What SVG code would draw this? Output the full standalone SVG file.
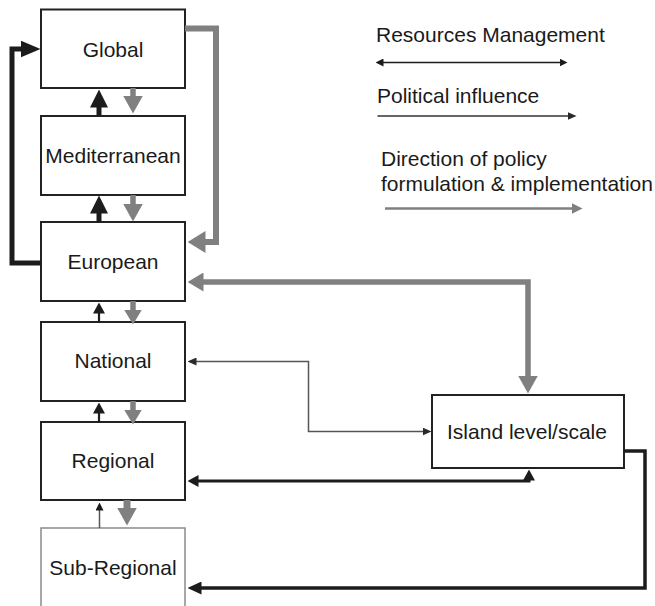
<svg xmlns="http://www.w3.org/2000/svg" width="655" height="606" viewBox="0 0 655 606">
<style>
.box{fill:#fff;stroke:#222;stroke-width:2}
.box.light{stroke:#8a8a8a;stroke-width:1.5}
text{font-family:"Liberation Sans",Arial,sans-serif;font-size:21px;fill:#1a1a1a}
.c{text-anchor:middle}
.k{fill:none;stroke:#1c1c1c}
.g{fill:none;stroke:#808080}
</style>
<defs>
<marker id="bBig" viewBox="0 -9 18 18" markerWidth="18" markerHeight="18" refX="0.5" refY="0" orient="auto-start-reverse" markerUnits="userSpaceOnUse"><path d="M0,-9 L18,0 L0,9 z" fill="#1c1c1c"/></marker>
<marker id="bLoop" viewBox="0 -8.5 20 17" markerWidth="20" markerHeight="17" refX="0.5" refY="0" orient="auto-start-reverse" markerUnits="userSpaceOnUse"><path d="M0,-8.5 L20,0 L0,8.5 z" fill="#1c1c1c"/></marker>
<marker id="bMid" viewBox="0 -6 11 12" markerWidth="11" markerHeight="12" refX="0.5" refY="0" orient="auto-start-reverse" markerUnits="userSpaceOnUse"><path d="M0,-6 L11,0 L0,6 z" fill="#1c1c1c"/></marker>
<marker id="bMid2" viewBox="0 -6.5 14 13" markerWidth="14" markerHeight="13" refX="0.5" refY="0" orient="auto-start-reverse" markerUnits="userSpaceOnUse"><path d="M0,-6.5 L14,0 L0,6.5 z" fill="#1c1c1c"/></marker>
<marker id="bSm" viewBox="0 -4 8 8" markerWidth="8" markerHeight="8" refX="0.5" refY="0" orient="auto-start-reverse" markerUnits="userSpaceOnUse"><path d="M0,-4 L8,0 L0,4 z" fill="#1c1c1c"/></marker>
<marker id="dSm" viewBox="0 -4 9 8" markerWidth="9" markerHeight="8" refX="0.5" refY="0" orient="auto-start-reverse" markerUnits="userSpaceOnUse"><path d="M0,-4 L9,0 L0,4 z" fill="#2a2a2a"/></marker>
<marker id="gBig" viewBox="0 -10 18 20" markerWidth="18" markerHeight="20" refX="0.5" refY="0" orient="auto-start-reverse" markerUnits="userSpaceOnUse"><path d="M0,-10 L18,0 L0,10 z" fill="#808080"/></marker>
<marker id="gMid" viewBox="0 -9 15 18" markerWidth="15" markerHeight="18" refX="0.5" refY="0" orient="auto-start-reverse" markerUnits="userSpaceOnUse"><path d="M0,-9 L15,0 L0,9 z" fill="#808080"/></marker>
<marker id="gLoop" viewBox="0 -11 18 22" markerWidth="18" markerHeight="22" refX="0.5" refY="0" orient="auto-start-reverse" markerUnits="userSpaceOnUse"><path d="M0,-11 L18,0 L0,11 z" fill="#808080"/></marker>
<marker id="gSide" viewBox="0 -9.5 16 19" markerWidth="16" markerHeight="19" refX="0.5" refY="0" orient="auto-start-reverse" markerUnits="userSpaceOnUse"><path d="M0,-9.5 L16,0 L0,9.5 z" fill="#808080"/></marker>
<marker id="gLeg" viewBox="0 -5.5 11 11" markerWidth="11" markerHeight="11" refX="0.5" refY="0" orient="auto-start-reverse" markerUnits="userSpaceOnUse"><path d="M0,-5.5 L11,0 L0,5.5 z" fill="#808080"/></marker>
</defs>

<g id="node-global"><rect class="box" x="41" y="9.5" width="144" height="78.5"/><text class="c" x="113" y="56.5">Global</text></g>
<g id="node-mediterranean"><rect class="box" x="41" y="116" width="144" height="79"/><text class="c" x="113" y="163">Mediterranean</text></g>
<g id="node-european"><rect class="box" x="41" y="222" width="144" height="79"/><text class="c" x="113" y="269">European</text></g>
<g id="node-national"><rect class="box" x="41" y="322" width="144" height="79"/><text class="c" x="113" y="367.5">National</text></g>
<g id="node-regional"><rect class="box" x="41" y="422" width="144" height="78"/><text class="c" x="113" y="468">Regional</text></g>
<g id="node-subregional"><rect class="box light" x="41" y="528" width="144" height="90"/><text class="c" x="113" y="575">Sub-Regional</text></g>
<g id="node-island"><rect class="box" x="432" y="395" width="192" height="73"/><text class="c" x="527" y="438.5">Island level/scale</text></g>

<g id="connectors">
<path class="k" stroke-width="5" d="M99,116 V107" marker-end="url(#bBig)"/>
<path class="g" stroke-width="5.5" d="M133,88 V96" marker-end="url(#gBig)"/>
<path class="k" stroke-width="5" d="M99,222 V213" marker-end="url(#bBig)"/>
<path class="g" stroke-width="5.5" d="M133,195 V204" marker-end="url(#gBig)"/>
<path class="k" stroke-width="2.2" d="M99,322 V313" marker-end="url(#bMid)"/>
<path class="g" stroke-width="5.5" d="M133,301 V310" marker-end="url(#gMid)"/>
<path class="k" stroke-width="2.2" d="M99,422 V413" marker-end="url(#bMid)"/>
<path class="g" stroke-width="5.5" d="M133,401 V410" marker-end="url(#gMid)"/>
<path class="g" stroke-width="1.5" style="stroke:#555" d="M99.5,528 V510" marker-end="url(#bSm)"/>
<path class="g" stroke-width="7" d="M127,500 V508" marker-end="url(#gBig)"/>
<path class="k" stroke-width="5" d="M41,263 H12 V49 H21" marker-end="url(#bLoop)"/>
<path class="g" stroke-width="6" d="M185,28.5 H216 V242 H205" marker-end="url(#gLoop)"/>
<path class="g" stroke-width="5.5" d="M203,282 H528 V376" marker-start="url(#gSide)" marker-end="url(#gBig)"/>
<path class="g" stroke-width="1.5" style="stroke:#555" d="M196,361.5 H308.5 V431.5 H423" marker-start="url(#dSm)" marker-end="url(#dSm)"/>
<path class="k" stroke-width="3" d="M198,481 H529 V480" marker-start="url(#bMid)" marker-end="url(#bMid)"/>
<path class="k" stroke-width="3.5" d="M624,451 H645 V588 H201" marker-end="url(#bMid2)"/>
</g>

<g id="legend">
<text x="376" y="42">Resources Management</text>
<path class="k" stroke-width="1.5" d="M383,62.5 H560" marker-start="url(#bSm)" marker-end="url(#bSm)"/>
<text x="377" y="103">Political influence</text>
<path class="k" stroke-width="1.5" style="stroke:#333" d="M377.5,116 H568" marker-end="url(#dSm)"/>
<text x="381" y="166">Direction of policy</text>
<text x="381" y="191">formulation &amp; implementation</text>
<path class="g" stroke-width="2.5" d="M385,208.5 H572" marker-end="url(#gLeg)"/>
</g>
</svg>
